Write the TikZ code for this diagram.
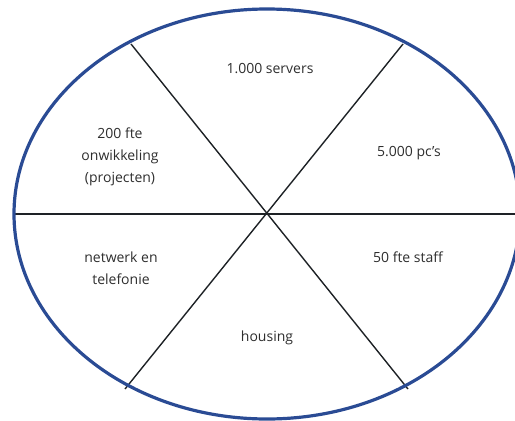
\documentclass[tikz,border=0pt]{standalone}
\usepackage{fontspec}
\setmainfont{Open Sans}
\definecolor{ringblue}{HTML}{2A4B94}
\definecolor{txtgray}{HTML}{2E2E2E}
\definecolor{spoke}{HTML}{1E2226}
\begin{document}
\begin{tikzpicture}[x=1pt,y=-1pt,
  lbl/.style={font=\fontsize{14}{22}\selectfont, text=txtgray, align=center, inner sep=0pt},
  spokeline/.style={draw=spoke, line width=1.4pt}]
\useasboundingbox (0,0) rectangle (515,421);
\clip (0,0) rectangle (515,421);
\coordinate (c) at (267,214);
\coordinate (l) at (14,214);
\coordinate (r) at (520,214);
\coordinate (tl) at (131,44);
\coordinate (tr) at (403,44);
\coordinate (bl) at (125,389);
\coordinate (br) at (408,389);
\draw[spokeline] (l) -- (r);
\draw[spokeline] (tl) -- (br);
\draw[spokeline] (tr) -- (bl);
\draw[ringblue, line width=3.2pt] (c) ellipse [x radius=253, y radius=205];
\node[lbl] (servers) at (270,69) {1.000 servers};
\node[lbl] (pcs) at (409,153) {5.000 pc’s};
\node[lbl] (ontw) at (120,157) {200 fte\\onwikkeling\\(projecten)};
\node[lbl] (netw) at (121,268) {netwerk en\\telefonie};
\node[lbl] (staff) at (408,257) {50 fte staff};
\node[lbl] (housing) at (267,338) {housing};
\end{tikzpicture}
\end{document}
